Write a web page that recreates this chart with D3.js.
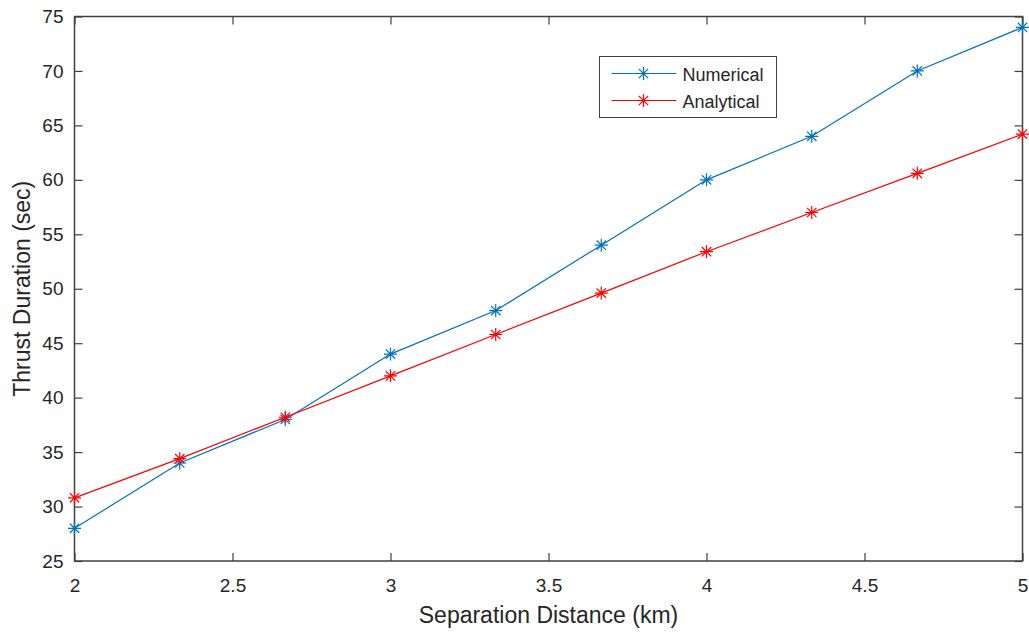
<!DOCTYPE html>
<html>
<head>
<meta charset="utf-8">
<script src="https://cdn.jsdelivr.net/npm/d3@7"></script>
<style>
  body { margin: 0; background: #fff; }
  text { font-family: "Liberation Sans", Arial, sans-serif; }
</style>
</head>
<body>
<svg id="chart" width="1029" height="634"></svg>
<script>
// Data
var distance = [2, 2.333, 2.667, 3, 3.333, 3.667, 4, 4.333, 4.667, 5];
var numerical = [28, 34, 38, 44, 48, 54, 60, 64, 70, 74];
var analytical = [30.8, 34.4, 38.2, 42, 45.8, 49.6, 53.4, 57, 60.6, 64.2];
var xTicks = [2, 2.5, 3, 3.5, 4, 4.5, 5];
var yTicks = [25, 30, 35, 40, 45, 50, 55, 60, 65, 70, 75];
var seriesNames = ["Numerical", "Analytical"];
var seriesColors = ["#0072BD", "#FF0000"];

var svg = d3.select("svg#chart");
var margin = {top: 16.5, right: 6.5, bottom: 73, left: 74.5},
    width = 1029 - margin.left - margin.right,
    height = 634 - margin.top - margin.bottom;

var g = svg.append("g")
    .attr("transform", "translate(" + margin.left + "," + margin.top + ")");

var x = d3.scaleLinear().domain([2, 5]).range([0, width]);
var y = d3.scaleLinear().domain([25, 75]).range([height, 0]);

var axisColor = "#404040";

function styleAxis(sel) {
  sel.select(".domain").remove();
  sel.selectAll(".tick line").attr("stroke", axisColor).attr("stroke-width", 1.2);
  sel.selectAll(".tick text")
    .attr("fill", "#262626")
    .attr("font-size", "19px")
    .style("font-family", "'Liberation Sans', Arial, sans-serif");
}

// Axes with inward ticks
g.append("g")
    .attr("transform", "translate(0," + height + ")")
    .call(d3.axisBottom(x).tickValues(xTicks).tickSize(-8).tickPadding(17.5).tickFormat(d3.format("")))
    .call(styleAxis);
g.append("g")
    .call(d3.axisTop(x).tickValues(xTicks).tickSize(-8).tickFormat(""))
    .call(styleAxis);
g.append("g")
    .call(d3.axisLeft(y).tickValues(yTicks).tickSize(-8).tickPadding(11))
    .call(styleAxis);
g.append("g")
    .attr("transform", "translate(" + width + ",0)")
    .call(d3.axisRight(y).tickValues(yTicks).tickSize(-8).tickFormat(""))
    .call(styleAxis);

// Box
g.append("rect")
    .attr("x", 0).attr("y", 0)
    .attr("width", width).attr("height", height)
    .attr("fill", "none")
    .attr("stroke", axisColor)
    .attr("stroke-width", 1.5);

function asterisk(sel, cx, cy, r, color) {
  var d = 0.72 * r;
  var path = "M" + (cx - r) + "," + cy + "L" + (cx + r) + "," + cy +
    "M" + cx + "," + (cy - r) + "L" + cx + "," + (cy + r) +
    "M" + (cx - d) + "," + (cy - d) + "L" + (cx + d) + "," + (cy + d) +
    "M" + (cx - d) + "," + (cy + d) + "L" + (cx + d) + "," + (cy - d);
  sel.append("path").attr("d", path).attr("stroke", color)
    .attr("stroke-width", 1.2).attr("fill", "none");
}

var series = [numerical, analytical];
var line = d3.line()
    .x(function(d, i) { return x(distance[i]); })
    .y(function(d) { return y(d); });

series.forEach(function(vals, s) {
  g.append("path")
    .datum(vals)
    .attr("d", line)
    .attr("fill", "none")
    .attr("stroke", seriesColors[s])
    .attr("stroke-width", 1.2);
  vals.forEach(function(v, i) {
    asterisk(g, x(distance[i]), y(v), 6.5, seriesColors[s]);
  });
});

// Legend
var legend = svg.append("g").attr("transform", "translate(599.5,56.5)");
legend.append("rect")
    .attr("width", 177).attr("height", 61)
    .attr("fill", "#fff")
    .attr("stroke", axisColor)
    .attr("stroke-width", 1);
seriesNames.forEach(function(name, s) {
  var ly = 17 + s * 27;
  legend.append("line")
    .attr("x1", 12).attr("x2", 77)
    .attr("y1", ly).attr("y2", ly)
    .attr("stroke", seriesColors[s]).attr("stroke-width", 1.2);
  asterisk(legend, 44, ly, 6.5, seriesColors[s]);
  legend.append("text")
    .attr("x", 83).attr("y", ly + 7)
    .attr("font-size", "18px")
    .attr("fill", "#262626")
    .text(name);
});

// Axis labels
svg.append("text")
    .attr("x", margin.left + width / 2)
    .attr("y", 623)
    .attr("text-anchor", "middle")
    .attr("font-size", "23px")
    .attr("fill", "#262626")
    .text("Separation Distance (km)");

svg.append("text")
    .attr("transform", "translate(30," + (margin.top + height / 2) + ") rotate(-90)")
    .attr("text-anchor", "middle")
    .attr("font-size", "23px")
    .attr("fill", "#262626")
    .text("Thrust Duration (sec)");
</script>
</body>
</html>
